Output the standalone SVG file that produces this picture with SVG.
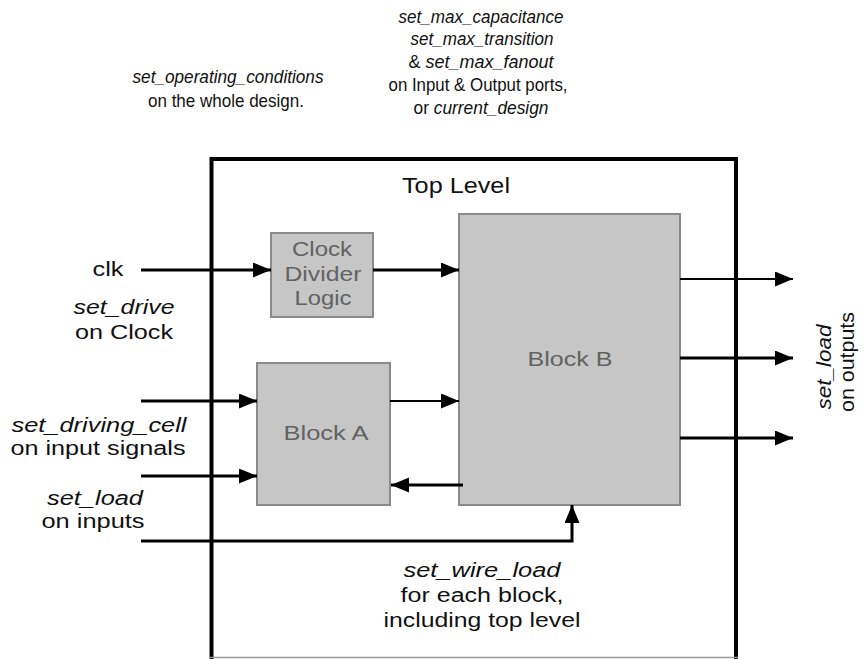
<svg xmlns="http://www.w3.org/2000/svg" width="864" height="659" viewBox="0 0 864 659">
<defs>
<style>
text{font-family:"Liberation Sans",Arial,sans-serif;fill:#111;text-anchor:middle}
.it{font-style:italic}
.lbl{font-size:20px}
.top{font-size:19px}
.blk{fill:#c6c6c6;stroke:#8a8a8a;stroke-width:2}
.bt{font-size:21px;fill:#626262}
.w{fill:none;stroke:#000;stroke-width:3}
.wt{fill:none;stroke:#000;stroke-width:2}
</style>
<marker id="ah" markerUnits="userSpaceOnUse" markerWidth="19" markerHeight="17" refX="18" refY="7.5" orient="auto">
<path d="M0,0 L18,7.5 L0,15 Z" fill="#000"/>
</marker>
</defs>
<rect width="864" height="659" fill="#fff"/>

<g id="top-level">
<path d="M211.5,659 V159 H736 V659" fill="none" stroke="#000" stroke-width="4"/>
<line x1="209" y1="657.5" x2="738" y2="657.5" stroke="#999" stroke-width="1.5"/>
<text x="456" y="193" font-size="22" textLength="108" lengthAdjust="spacingAndGlyphs">Top Level</text>
</g>

<g id="clock-divider">
<rect class="blk" x="271" y="233" width="102" height="84"/>
<text class="bt" x="322" y="256" textLength="60" lengthAdjust="spacingAndGlyphs">Clock</text>
<text class="bt" x="323" y="281" textLength="77" lengthAdjust="spacingAndGlyphs">Divider</text>
<text class="bt" x="323" y="305" textLength="57" lengthAdjust="spacingAndGlyphs">Logic</text>
</g>

<g id="block-a">
<rect class="blk" x="257" y="363" width="133" height="142"/>
<text class="bt" x="326" y="440" textLength="85" lengthAdjust="spacingAndGlyphs">Block A</text>
</g>

<g id="block-b">
<rect class="blk" x="459" y="214" width="221" height="291"/>
<text class="bt" x="570" y="366" textLength="85" lengthAdjust="spacingAndGlyphs">Block B</text>
</g>

<g id="connectors">
<line class="w" x1="141" y1="270" x2="271" y2="270" marker-end="url(#ah)"/>
<line class="w" x1="373" y1="270" x2="459" y2="270" marker-end="url(#ah)"/>
<line class="w" x1="141" y1="401" x2="257" y2="401" marker-end="url(#ah)"/>
<line class="w" x1="141" y1="476" x2="257" y2="476" marker-end="url(#ah)"/>
<line class="wt" x1="390" y1="401" x2="459" y2="401" marker-end="url(#ah)"/>
<line class="w" x1="463" y1="485" x2="391" y2="485" marker-end="url(#ah)"/>
<polyline class="w" points="141,541 572,541 572,505" marker-end="url(#ah)"/>
<line class="wt" x1="680" y1="279" x2="793" y2="279" marker-end="url(#ah)"/>
<line class="w" x1="680" y1="358" x2="793" y2="358" marker-end="url(#ah)"/>
<line class="w" x1="680" y1="438" x2="793" y2="438" marker-end="url(#ah)"/>
</g>

<g id="labels-top">
<text class="top it" x="228" y="83" textLength="191" lengthAdjust="spacingAndGlyphs">set_operating_conditions</text>
<text class="top" x="226" y="107" textLength="156" lengthAdjust="spacingAndGlyphs">on the whole design.</text>
<text class="top it" x="481" y="23" textLength="165" lengthAdjust="spacingAndGlyphs">set_max_capacitance</text>
<text class="top it" x="482" y="45" textLength="143" lengthAdjust="spacingAndGlyphs">set_max_transition</text>
<text class="top" x="481" y="68" textLength="145" lengthAdjust="spacingAndGlyphs">&amp;  <tspan class="it">set_max_fanout</tspan></text>
<text class="top" x="478" y="91" textLength="179" lengthAdjust="spacingAndGlyphs">on Input &amp; Output ports,</text>
<text class="top" x="481" y="114" textLength="135" lengthAdjust="spacingAndGlyphs">or <tspan class="it">current_design</tspan></text>
</g>

<g id="labels-left">
<text class="lbl" x="108" y="276" textLength="31" lengthAdjust="spacingAndGlyphs">clk</text>
<text class="lbl it" x="124" y="314" textLength="101" lengthAdjust="spacingAndGlyphs">set_drive</text>
<text class="lbl" x="124" y="339" textLength="98" lengthAdjust="spacingAndGlyphs">on Clock</text>
<text class="lbl it" x="99" y="432" textLength="175" lengthAdjust="spacingAndGlyphs">set_driving_cell</text>
<text class="lbl" x="98" y="455" textLength="175" lengthAdjust="spacingAndGlyphs">on input signals</text>
<text class="lbl it" x="95" y="505" textLength="96" lengthAdjust="spacingAndGlyphs">set_load</text>
<text class="lbl" x="93" y="528" textLength="103" lengthAdjust="spacingAndGlyphs">on inputs</text>
</g>

<g id="labels-bottom">
<text class="lbl it" x="482" y="577" textLength="157" lengthAdjust="spacingAndGlyphs">set_wire_load</text>
<text class="lbl" x="482" y="602" textLength="163" lengthAdjust="spacingAndGlyphs">for each block,</text>
<text class="lbl" x="482" y="627" textLength="197" lengthAdjust="spacingAndGlyphs">including top level</text>
</g>

<g id="labels-right">
<text class="lbl it" transform="translate(831,367) rotate(-90)" textLength="85" lengthAdjust="spacingAndGlyphs">set_load</text>
<text class="lbl" transform="translate(854,362) rotate(-90)" textLength="100" lengthAdjust="spacingAndGlyphs">on outputs</text>
</g>
</svg>
